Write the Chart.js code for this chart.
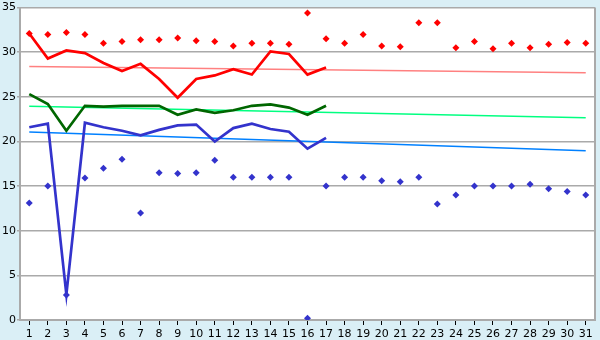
<!DOCTYPE html>
<html>
<head>
<meta charset="utf-8">
<script src="https://cdn.jsdelivr.net/npm/chart.js@4.4.1/dist/chart.umd.min.js"></script>
<style>
  html, body { margin: 0; padding: 0; background: #daeff6; }
  #wrap { width: 600px; height: 340px; position: relative; }
</style>
</head>
<body>
<div id="wrap"><canvas id="c" width="600" height="340"></canvas></div>
<script>
const days = ['1','2','3','4','5','6','7','8','9','10','11','12','13','14','15','16','17','18','19','20','21','22','23','24','25','26','27','28','29','30','31'];
const maxPoints = [32.1,32.0,32.2,32.0,31.0,31.2,31.4,31.4,31.6,31.3,31.2,30.7,31.0,31.0,30.9,34.4,31.5,31.0,32.0,30.7,30.6,33.3,33.3,30.5,31.2,30.4,31.0,30.5,30.9,31.1,31.0];
const minPoints = [13.1,15.0,2.8,15.9,17.0,18.0,12.0,16.5,16.4,16.5,17.9,16.0,16.0,16.0,16.0,0.2,15.0,16.0,16.0,15.6,15.5,16.0,13.0,14.0,15.0,15.0,15.0,15.2,14.7,14.4,14.0];
const redLine = [32.1,29.3,30.2,29.9,28.8,27.9,28.7,27.0,24.9,27.0,27.4,28.1,27.5,30.1,29.8,27.5,28.3];
const greenLine = [25.3,24.2,21.2,24.0,23.9,24.0,24.0,24.0,23.0,23.6,23.2,23.5,24.0,24.15,23.8,23.0,24.0];
const blueLine = [21.6,22.0,2.85,22.1,21.6,21.2,20.7,21.3,21.8,21.9,20.0,21.5,22.0,21.4,21.1,19.2,20.4];
const redTrend = [28.4, 27.7];
const greenTrend = [23.95, 22.65];
const blueTrend = [21.05, 18.95];
const yTicks = [0,5,10,15,20,25,30,35];

function trend(ends) {
  return [{x: days[0], y: ends[0]}, {x: days[days.length-1], y: ends[1]}];
}

const bgPlugin = {
  id: 'bg',
  beforeDraw(chart) {
    const {ctx, chartArea: a} = chart;
    ctx.save();
    ctx.fillStyle = '#daeff6';
    ctx.fillRect(0, 0, chart.width, chart.height);
    ctx.fillStyle = '#ffffff';
    ctx.fillRect(a.left, a.top, a.right - a.left, a.bottom - a.top);
    ctx.restore();
  },
  afterDatasetsDraw(chart) {
    const {ctx, chartArea: a} = chart;
    ctx.save();
    ctx.strokeStyle = '#aaaaaa';
    ctx.lineWidth = 2;
    ctx.beginPath();
    ctx.moveTo(a.right, a.top);
    ctx.lineTo(a.right, a.bottom);
    ctx.stroke();
    ctx.restore();
  }
};

new Chart(document.getElementById('c'), {
  type: 'line',
  data: {
    labels: days,
    datasets: [
      { data: trend(redTrend), borderColor: '#ff8080', borderWidth: 1.5, pointRadius: 0, order: 5 },
      { data: trend(greenTrend), borderColor: '#00ff80', borderWidth: 1.5, pointRadius: 0, order: 5 },
      { data: trend(blueTrend), borderColor: '#0080ff', borderWidth: 1.5, pointRadius: 0, order: 5 },
      { data: redLine, borderColor: '#ff0000', borderWidth: 2.7, pointRadius: 0, order: 3 },
      { data: greenLine, borderColor: '#006600', borderWidth: 2.7, pointRadius: 0, order: 3 },
      { data: blueLine, borderColor: '#3333cc', borderWidth: 2.7, pointRadius: 0, order: 3 },
      { data: maxPoints, showLine: false, pointStyle: 'rectRot', pointRadius: 3.5, backgroundColor: '#ff0000', borderColor: '#ff0000', borderWidth: 0, order: 1 },
      { data: minPoints, showLine: false, pointStyle: 'rectRot', pointRadius: 3.5, backgroundColor: '#3333cc', borderColor: '#3333cc', borderWidth: 0, order: 1 }
    ]
  },
  options: {
    responsive: false,
    animation: false,
    devicePixelRatio: 1,
    layout: { padding: { top: 5, right: 5, left: 0, bottom: 0 } },
    plugins: { legend: { display: false }, tooltip: { enabled: false } },
    elements: { line: { tension: 0 } },
    scales: {
      x: {
        type: 'category',
        offset: true,
        grid: { display: true, drawOnChartArea: false, drawTicks: true, tickLength: 5, color: '#000000', offset: false },
        border: { display: true, color: '#aaaaaa', width: 2 },
        ticks: { color: '#000000', font: { family: 'DejaVu Sans', size: 11 }, padding: 3, maxRotation: 0, autoSkip: false },
        afterFit(s) { s.height = 20; }
      },
      y: {
        min: 0, max: 35,
        afterBuildTicks(s) { s.ticks = yTicks.map(v => ({value: v})); },
        grid: { color: '#aaaaaa', lineWidth: 1.5, tickLength: 3, drawTicks: true },
        border: { display: true, color: '#aaaaaa', width: 2 },
        ticks: { color: '#000000', font: { family: 'DejaVu Sans', size: 11 }, padding: 1 },
        afterFit(s) { s.width = 20; }
      }
    }
  },
  plugins: [bgPlugin]
});
</script>
</body>
</html>
